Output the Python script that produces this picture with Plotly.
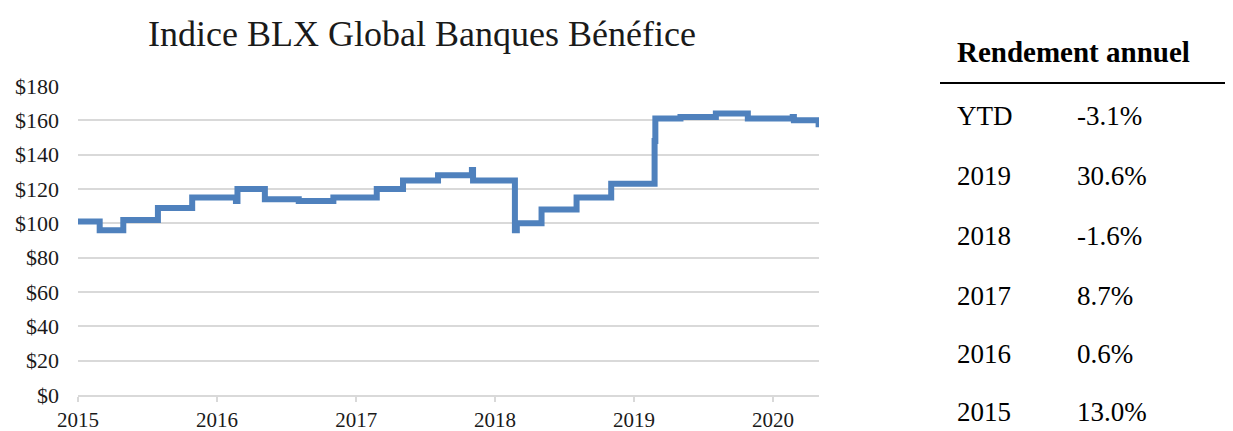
import plotly.graph_objects as go

# ---- data ----
dates = ["2015-01-01", "2015-02-27", "2015-04-30", "2015-07-30", "2015-10-28",
         "2016-02-20", "2016-02-24", "2016-05-06", "2016-08-03", "2016-11-02",
         "2017-02-24", "2017-05-04", "2017-08-04", "2017-11-01", "2017-11-04",
         "2018-02-22", "2018-02-27", "2018-05-03", "2018-08-03", "2018-11-02",
         "2019-02-24", "2019-02-26", "2019-05-03", "2019-08-04", "2019-10-27",
         "2020-02-22", "2020-02-25", "2020-04-30"]
values = [101, 96, 102, 109, 115,
          113, 120, 114, 113, 115,
          120, 125, 128, 131, 125,
          96, 100, 108, 115, 123,
          148, 161, 162, 164, 161,
          162, 160, 156]

y_ticks = [0, 20, 40, 60, 80, 100, 120, 140, 160, 180]
y_tick_labels = ["$" + str(v) for v in y_ticks]
table_title = "Rendement annuel"
table_periods = ["YTD", "2019", "2018", "2017", "2016", "2015"]
table_returns = ["-3.1%", "30.6%", "-1.6%", "8.7%", "0.6%", "13.0%"]
chart_title = "Indice BLX Global Banques Bénéfice"

# ---- layout geometry (pixels, page coords; page body has an 8px margin) ----
OFF = 8
W, H = 1233 - OFF, 431 - OFF
PL, PR, PT, PB = 78, 819, 86, 395          # plot area edges in page coords
L, R, T, B = PL - OFF, W - (PR - OFF), PT - OFF, H - (PB - OFF)
PW, PH = W - L - R, H - T - B
FONT = "Liberation Serif"


def px(x):
    return (x - OFF - L) / PW


def py(y):
    return (H - B - (y - OFF)) / PH


fig = go.Figure()
fig.add_trace(go.Scatter(
    x=dates, y=values, mode="lines",
    line=dict(color="#4F81BD", width=6, shape="hv"),
    hoverinfo="x+y", showlegend=False,
))

fig.update_layout(
    width=W, height=H,
    margin=dict(l=L, r=R, t=T, b=B, autoexpand=False),
    paper_bgcolor="white", plot_bgcolor="white",
    font=dict(family=FONT, color="#1a1a1a", size=22),
    title=dict(text=chart_title, xref="container", x=(422 - OFF) / W, xanchor="center",
               yref="container", y=1 - (33 - OFF) / H, yanchor="middle",
               font=dict(family=FONT, size=36, color="#1a1a1a")),
    xaxis=dict(
        type="date", range=["2015-01-01", "2020-05-01"],
        tick0="2015-01-01", dtick="M12", tickformat="%Y",
        showgrid=False, showline=True, linecolor="#D9D9D9", linewidth=2,
        ticks="outside", ticklen=5, tickcolor="#D9D9D9", tickwidth=2,
        ticklabelstandoff=0, automargin=False,
        tickfont=dict(family=FONT, size=21, color="#1a1a1a"),
        zeroline=False, fixedrange=True,
    ),
    yaxis=dict(
        range=[0, 180], tickvals=y_ticks, ticktext=y_tick_labels,
        showgrid=True, gridcolor="#D9D9D9", gridwidth=2,
        zeroline=False, showline=False, ticks="", ticklabelstandoff=18,
        automargin=False, fixedrange=True,
    ),
)

# table
fig.add_annotation(text="<b>" + table_title + "</b>", xref="paper", yref="paper",
                   x=px(955), y=py(52), xanchor="left", yanchor="middle",
                   showarrow=False, font=dict(family=FONT, size=29, color="#000"))
fig.add_shape(type="line", xref="paper", yref="paper",
              x0=px(940), x1=px(1233), y0=py(83), y1=py(83),
              line=dict(color="#000", width=2))
row_y = [116, 176, 236, 296, 354, 412]
for per, ret, yy in zip(table_periods, table_returns, row_y):
    fig.add_annotation(text=per, xref="paper", yref="paper", x=px(955), y=py(yy),
                       xanchor="left", yanchor="middle", showarrow=False,
                       font=dict(family=FONT, size=27, color="#000"))
    fig.add_annotation(text=ret, xref="paper", yref="paper", x=px(1075), y=py(yy),
                       xanchor="left", yanchor="middle", showarrow=False,
                       font=dict(family=FONT, size=27, color="#000"))

fig.write_html("out.html")
